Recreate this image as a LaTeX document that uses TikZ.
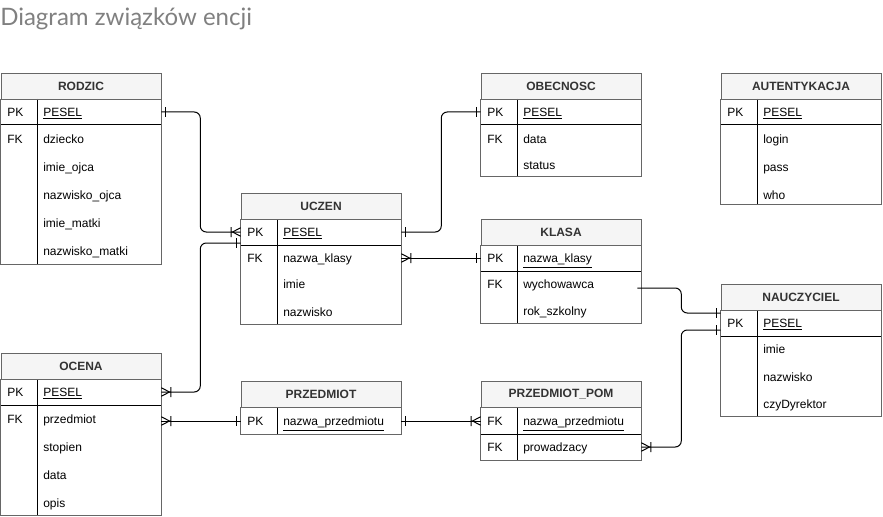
\documentclass[tikz,border=0pt]{standalone}
\usepackage{fontspec}
\setmainfont{Liberation Sans}
\newfontfamily\titlefont{Lato}
\definecolor{erborder}{HTML}{666666}
\definecolor{erhead}{HTML}{F5F5F5}
\definecolor{ertext}{HTML}{333333}
\definecolor{ertitle}{HTML}{808080}

% one-bar end (line runs to the table edge)
\pgfdeclarearrow{
  name=erone,
  setup code={
    \pgfarrowssettipend{0pt}
    \pgfarrowssetlineend{0pt}
    \pgfarrowssetbackend{-3.5pt}
    \pgfarrowssetvisualbackend{-3.5pt}
    \pgfarrowshullpoint{0pt}{3.75pt}
    \pgfarrowshullpoint{-3.5pt}{-3.75pt}
  },
  drawing code={
    \pgfsetdash{}{0pt}
    \pgfpathmoveto{\pgfqpoint{-3pt}{3.75pt}}
    \pgfpathlineto{\pgfqpoint{-3pt}{-3.75pt}}
    \pgfusepathqstroke
  }
}
% crow's foot with bar (one or many)
\pgfdeclarearrow{
  name=crowbar,
  setup code={
    \pgfarrowssettipend{0pt}
    \pgfarrowssetlineend{0pt}
    \pgfarrowssetbackend{-7.5pt}
    \pgfarrowssetvisualbackend{-7.5pt}
    \pgfarrowshullpoint{0pt}{3.75pt}
    \pgfarrowshullpoint{-7.5pt}{-3.75pt}
  },
  drawing code={
    \pgfsetdash{}{0pt}
    \pgfpathmoveto{\pgfqpoint{0pt}{3.2pt}}
    \pgfpathlineto{\pgfqpoint{-6.2pt}{0pt}}
    \pgfpathlineto{\pgfqpoint{0pt}{-3.2pt}}
    \pgfpathmoveto{\pgfqpoint{-7.2pt}{3.75pt}}
    \pgfpathlineto{\pgfqpoint{-7.2pt}{-3.75pt}}
    \pgfusepathqstroke
  }
}

\begin{document}
\begin{tikzpicture}[
    x=0.75pt, y=-0.75pt,
    hdr/.style={draw=erborder, fill=erhead, minimum width=120pt, minimum height=19.5pt,
      inner sep=0pt, font=\fontsize{9}{11}\selectfont\bfseries, text=ertext},
    frame/.style={draw=erborder, line width=0.75pt},
    inner/.style={draw=black, line width=0.75pt},
    key/.style={anchor=west, inner sep=0pt, text height=9pt, text depth=2pt,
      font=\fontsize{9}{11}\selectfont},
    fld/.style={key},
    rel/.style={draw=black, line width=0.75pt, rounded corners=4.5pt},
    title/.style={anchor=base west, inner sep=0pt, text=ertitle,
      font=\titlefont\fontsize{18}{20}\selectfont}
  ]
  \useasboundingbox (0,0) rectangle (883,517);
  \node[title] (heading) at (0,26) {Diagram związków encji};

  % RODZIC
  \node[hdr] (rodzic) at (81,86) {RODZIC};
  \draw[inner] (37,99) -- (37,264) (1,125) -- (161,125);
  \draw[frame] (rodzic.south west) rectangle (161,264);
  \foreach \y/\k/\f/\n in {112/PK/\underline{PESEL}/pesel, 139/FK/dziecko/dziecko,
      167/{}/imie\_ojca/imieojca, 195/{}/nazwisko\_ojca/nazwiskoojca,
      223/{}/imie\_matki/imiematki, 251/{}/nazwisko\_matki/nazwiskomatki}
    {\node[key] (rodzic-\n-k) at (7,\y) {\k}; \node[fld] (rodzic-\n) at (43,\y) {\f};}

  % OBECNOSC
  \node[hdr] (obecnosc) at (561,86) {OBECNOSC};
  \draw[inner] (517,99) -- (517,177) (481,125) -- (641,125);
  \draw[frame] (obecnosc.south west) rectangle (641,177);
  \foreach \y/\k/\f/\n in {112/PK/\underline{PESEL}/pesel, 139/FK/data/data, 165/{}/status/status}
    {\node[key] (obecnosc-\n-k) at (487,\y) {\k}; \node[fld] (obecnosc-\n) at (523,\y) {\f};}

  % AUTENTYKACJA
  \node[hdr] (autentykacja) at (801,86) {AUTENTYKACJA};
  \draw[inner] (757,99) -- (757,204) (721,125) -- (881,125);
  \draw[frame] (autentykacja.south west) rectangle (881,204);
  \foreach \y/\k/\f/\n in {112/PK/\underline{PESEL}/pesel, 139/{}/login/login,
      167/{}/pass/pass, 195/{}/who/who}
    {\node[key] (autentykacja-\n-k) at (727,\y) {\k}; \node[fld] (autentykacja-\n) at (763,\y) {\f};}

  % UCZEN
  \node[hdr] (uczen) at (321,206) {UCZEN};
  \draw[inner] (277,219) -- (277,324) (241,245) -- (401,245);
  \draw[frame] (uczen.south west) rectangle (401,324);
  \foreach \y/\k/\f/\n in {232/PK/\underline{PESEL}/pesel, 258/FK/nazwa\_klasy/klasa,
      284/{}/imie/imie, 312/{}/nazwisko/nazwisko}
    {\node[key] (uczen-\n-k) at (247,\y) {\k}; \node[fld] (uczen-\n) at (283,\y) {\f};}

  % KLASA
  \node[hdr] (klasa) at (561,232) {KLASA};
  \draw[inner] (517,245) -- (517,323) (481,271) -- (641,271);
  \draw[frame] (klasa.south west) rectangle (641,323);
  \foreach \y/\k/\f/\n in {258/PK/\underline{nazwa\_klasy}/nazwa, 284/FK/wychowawca/wych,
      311/{}/rok\_szkolny/rok}
    {\node[key] (klasa-\n-k) at (487,\y) {\k}; \node[fld] (klasa-\n) at (523,\y) {\f};}

  % NAUCZYCIEL
  \node[hdr] (nauczyciel) at (801,297) {NAUCZYCIEL};
  \draw[inner] (757,310) -- (757,416) (721,336) -- (881,336);
  \draw[frame] (nauczyciel.south west) rectangle (881,416);
  \foreach \y/\k/\f/\n in {323/PK/\underline{PESEL}/pesel, 349/{}/imie/imie,
      377/{}/nazwisko/nazwisko, 404/{}/czyDyrektor/dyrektor}
    {\node[key] (nauczyciel-\n-k) at (727,\y) {\k}; \node[fld] (nauczyciel-\n) at (763,\y) {\f};}

  % OCENA
  \node[hdr] (ocena) at (81,366) {OCENA};
  \draw[inner] (37,379) -- (37,515) (1,405) -- (161,405);
  \draw[frame] (ocena.south west) rectangle (161,515);
  \foreach \y/\k/\f/\n in {392/PK/\underline{PESEL}/pesel, 419/FK/przedmiot/przedmiot,
      447/{}/stopien/stopien, 475/{}/data/data, 503/{}/opis/opis}
    {\node[key] (ocena-\n-k) at (7,\y) {\k}; \node[fld] (ocena-\n) at (43,\y) {\f};}

  % PRZEDMIOT
  \node[hdr] (przedmiot) at (321,394) {PRZEDMIOT};
  \draw[inner] (277,407) -- (277,434);
  \draw[frame] (przedmiot.south west) rectangle (401,434);
  \node[key] (przedmiot-nazwa-k) at (247,421) {PK};
  \node[fld] (przedmiot-nazwa) at (283,421) {\underline{nazwa\_przedmiotu}};

  % PRZEDMIOT_POM
  \node[hdr] (pom) at (561,394) {PRZEDMIOT\_POM};
  \draw[inner] (517,407) -- (517,460) (481,434) -- (641,434);
  \draw[frame] (pom.south west) rectangle (641,460);
  \foreach \y/\k/\f/\n in {421/FK/\underline{nazwa\_przedmiotu}/nazwa, 447/FK/prowadzacy/prow}
    {\node[key] (pom-\n-k) at (487,\y) {\k}; \node[fld] (pom-\n) at (523,\y) {\f};}

  % relations
  \draw[rel, erone-crowbar] (rodzic-pesel -| rodzic.east) -- ++(39,0) |- (uczen-pesel -| uczen.west);
  \draw[rel, erone-erone] (uczen-pesel -| uczen.east) -- ++(40,0) |- (obecnosc-pesel -| obecnosc.west);
  \draw[rel, crowbar-erone] (uczen-klasa -| uczen.east) -- (klasa-nazwa -| klasa.west);
  \draw[rel, crowbar-erone] (ocena-pesel -| ocena.east) -- ++(39,0) |- ([yshift=-8.25pt]uczen-pesel -| uczen.west);
  \draw[rel, crowbar-erone] (przedmiot-nazwa -| ocena.east) -- (przedmiot-nazwa -| przedmiot.west);
  \draw[rel, erone-crowbar] (przedmiot-nazwa -| przedmiot.east) -- (pom-nazwa -| pom.west);
  \draw[rel, -erone] ([xshift=-3pt,yshift=-3pt]klasa-wych -| klasa.east) -- ++(44,0) |- ([yshift=7.5pt]nauczyciel-pesel -| nauczyciel.west);
  \draw[rel, crowbar-erone] (pom-prow -| pom.east) -- ++(40,0) |- ([yshift=-5.25pt]nauczyciel-pesel -| nauczyciel.west);
\end{tikzpicture}
\end{document}
